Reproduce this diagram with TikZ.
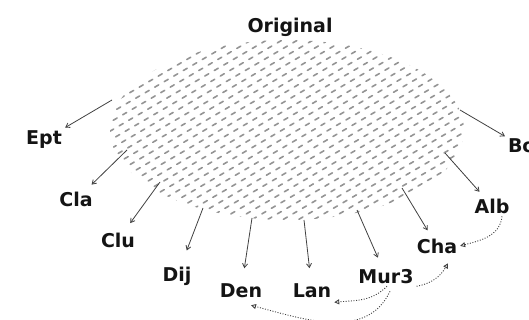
\documentclass[tikz,border=0pt]{standalone}
\usepackage{fontspec}
\setmainfont{DejaVu Sans}
\usetikzlibrary{arrows.meta}
\begin{document}
\begin{tikzpicture}[x=1pt,y=-1pt,
 lab/.style={font=\fontsize{19}{23}\selectfont\bfseries, text=black!92, inner sep=1pt, outer sep=2pt, anchor=base},
 arr/.style={draw=black!75, line width=0.8pt, -{Straight Barb[length=4pt,width=5pt]}},
 darr/.style={draw=black!75, line width=0.9pt, dash pattern=on 1pt off 1.6pt, -{Triangle[open,length=5pt,width=5pt]}},
 hatch/.style={draw=black!42, line width=1.6pt, line cap=round, dash pattern=on 4.5pt off 6.5pt}]
\useasboundingbox (0,0) rectangle (529,320);
% hatched original
\begin{scope}
\clip (287,130) ellipse [x radius=177pt, y radius=90pt];
\foreach \c in {150,159,...,440} {
  \pgfmathsetmacro\ph{mod(0.45*\c,11)}
  \draw[hatch, dash phase=\ph pt] (100,\c-58) -- (480,\c-279);
}
\end{scope}
% labels
\node[lab] (Orig) at (290,33) {Original};
\node[lab] (Ept) at (44,145) {Ept};
\node[lab, anchor=base west] (Bo) at (505,153) {Bo};
\node[lab] (Cla) at (76,207) {Cla};
\node[lab] (Clu) at (118,247) {Clu};
\node[lab] (Dij) at (177,281) {Dij};
\node[lab] (Den) at (241,297) {Den};
\node[lab] (Lan) at (312,297) {Lan};
\node[lab] (Mur) at (386,283) {Mur3};
\node[lab] (Cha) at (437,253) {Cha};
\node[lab] (Alb) at (492,213) {Alb};
% arrow starts on the hatched area
\coordinate (sEpt) at (112,100);
\coordinate (sBo) at (460,110);
\coordinate (sCla) at (127,150);
\coordinate (sClu) at (160,182);
\coordinate (sDij) at (203,208);
\coordinate (sDen) at (252,218);
\coordinate (sLan) at (304,220);
\coordinate (sMur) at (357,210);
\coordinate (sCha) at (402,188);
\coordinate (sAlb) at (445,153);
\draw[arr, shorten >=1pt] (sEpt) -- (Ept);
\draw[arr] (sBo) -- (Bo);
\draw[arr, shorten >=7pt] (sCla) -- (Cla);
\draw[arr, shorten >=8pt] (sClu) -- (Clu);
\draw[arr, shorten >=14pt] (sDij) -- (Dij);
\draw[arr, shorten >=12pt] (sDen) -- (Den);
\draw[arr, shorten >=12pt] (sLan) -- (Lan);
\draw[arr, shorten >=9pt] (sMur) -- (Mur);
\draw[arr, shorten >=6pt] (sCha) -- (Cha);
\draw[arr, shorten >=5pt] (sAlb) -- (Alb);
% dotted arrows
\draw[darr] ([xshift=10pt]Alb.south) to[out=-95,in=15] (Cha.east);
\draw[darr] (Mur.south east) to[out=10,in=-120] ([xshift=11pt,yshift=-7pt]Cha.south);
\draw[darr] ([xshift=1pt]Mur.south) to[out=-135,in=5] ([yshift=-2pt]Lan.south east);
\draw[darr] ([xshift=4pt,yshift=-5pt]Mur.south) to[out=-115,in=-15] ([xshift=10pt,yshift=-5pt]Den.south);
\end{tikzpicture}
\end{document}
